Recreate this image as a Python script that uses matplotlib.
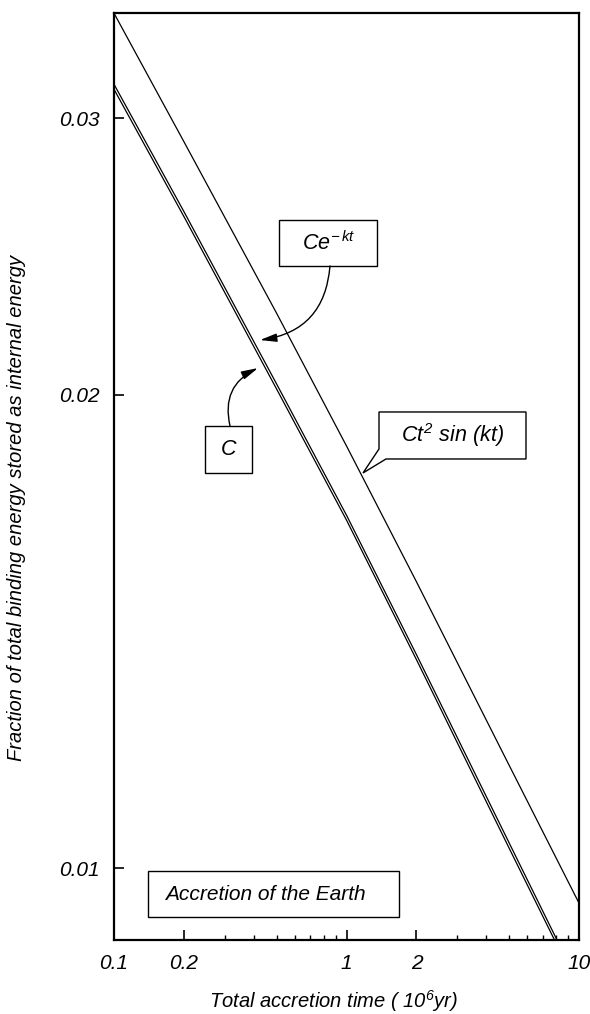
import matplotlib
matplotlib.use("Agg")
import matplotlib.pyplot as plt
from matplotlib.patches import Rectangle, Polygon
from matplotlib.ticker import FixedLocator, NullLocator, NullFormatter, FixedFormatter

plt.rcParams['font.family'] = ['Liberation Sans', 'DejaVu Sans']
plt.rcParams['font.style'] = 'italic'
plt.rcParams['mathtext.fontset'] = 'custom'
plt.rcParams['mathtext.rm'] = 'Liberation Sans:italic'
plt.rcParams['mathtext.it'] = 'Liberation Sans:italic'
plt.rcParams['mathtext.sf'] = 'Liberation Sans:italic'

# accretion time (10^6 yr)
t = [0.1, 0.2, 0.5, 1, 2, 5, 10]
# fraction of binding energy kept as internal energy
frac_sin = [0.03499, 0.02898, 0.02255, 0.01856, 0.01521, 0.01163, 0.00950]
frac_exp = [0.03153, 0.02616, 0.02033, 0.01677, 0.01367, 0.01038, 0.00843]
frac_const = [0.03130, 0.02597, 0.02018, 0.01665, 0.01357, 0.01030, 0.00837]

xticks = [0.1, 0.2, 1, 2, 10]
xticklabels = ['0.1', '0.2', '1', '2', '10']
xminor = [0.3, 0.4, 0.5, 0.6, 0.7, 0.8, 0.9, 3, 4, 5, 6, 7, 8, 9]
yticks = [0.01, 0.02, 0.03]
yticklabels = ['0.01', '0.02', '0.03']

fig = plt.figure(figsize=(5.9, 10.14), dpi=100)
ax = fig.add_axes([114 / 590, 74 / 1014, 465 / 590, 927 / 1014])
ax.set_xscale('log')
ax.set_yscale('log')
ax.set_xlim(0.1, 10)
ax.set_ylim(0.009, 0.035)

lw = 0.9
ax.plot(t, frac_sin, color='black', lw=lw)
ax.plot(t, frac_exp, color='black', lw=lw)
ax.plot(t, frac_const, color='black', lw=lw)

ax.xaxis.set_major_locator(FixedLocator(xticks))
ax.xaxis.set_major_formatter(FixedFormatter(xticklabels))
ax.xaxis.set_minor_locator(FixedLocator(xminor))
ax.xaxis.set_minor_formatter(NullFormatter())
ax.yaxis.set_major_locator(FixedLocator(yticks))
ax.yaxis.set_major_formatter(FixedFormatter(yticklabels))
ax.yaxis.set_minor_locator(NullLocator())

ax.tick_params(which='major', direction='in', length=7.5, width=1.2, labelsize=15, pad=10)
ax.tick_params(which='minor', direction='in', length=3.8, width=1.0)
ax.tick_params(top=False, right=False)
for s in ax.spines.values():
    s.set_linewidth(1.6)

fig.text(17 / 590, 1 - 508 / 1014, 'Fraction of total binding energy stored as internal energy',
         rotation=90, ha='center', va='center', fontsize=14.5)
fig.text(333 / 590, 1 - 1001 / 1014, 'Total accretion time ( 10$^6$yr)',
         ha='center', va='center', fontsize=14.5)

box_kw = dict(transform=ax.transAxes, fill=False, edgecolor='black', lw=1.0)

# label boxes (axes fraction)
ax.add_patch(Rectangle((0.3548, 0.7271), 0.2108, 0.0496, **box_kw))
ax.text(0.4613, 0.7519, '$Ce^{-\\,kt}$', transform=ax.transAxes, ha='center', va='center', fontsize=15.5)

ax.add_patch(Rectangle((0.1957, 0.5038), 0.1011, 0.0507, **box_kw))
ax.text(0.2462, 0.5292, 'C', transform=ax.transAxes, ha='center', va='center', fontsize=15.5)

callout = [(0.5699, 0.5696), (0.8860, 0.5696), (0.8860, 0.5189), (0.5849, 0.5189),
           (0.5355, 0.5038), (0.5699, 0.5297)]
ax.add_patch(Polygon(callout, closed=True, **box_kw))
ax.text(0.7280, 0.5450, 'C$t^2$ sin (kt)', transform=ax.transAxes, ha='center', va='center', fontsize=15.5)

ax.add_patch(Rectangle((0.0731, 0.0248), 0.5398, 0.0496, **box_kw))
ax.text(0.1097, 0.0496, 'Accretion of the Earth', transform=ax.transAxes, ha='left', va='center', fontsize=15)

arrow = dict(arrowstyle='-|>,head_length=1.0,head_width=0.25', color='black', lw=1.0, shrinkA=0, shrinkB=0)
ax.annotate('', xy=(0.3140, 0.6472), xytext=(0.4645, 0.7271), xycoords='axes fraction',
            arrowprops=dict(connectionstyle='arc3,rad=-0.4', **arrow))
ax.annotate('', xy=(0.3097, 0.6170), xytext=(0.2495, 0.5545), xycoords='axes fraction',
            arrowprops=dict(connectionstyle='arc3,rad=-0.4', **arrow))

fig.savefig('out.png', dpi=100)
